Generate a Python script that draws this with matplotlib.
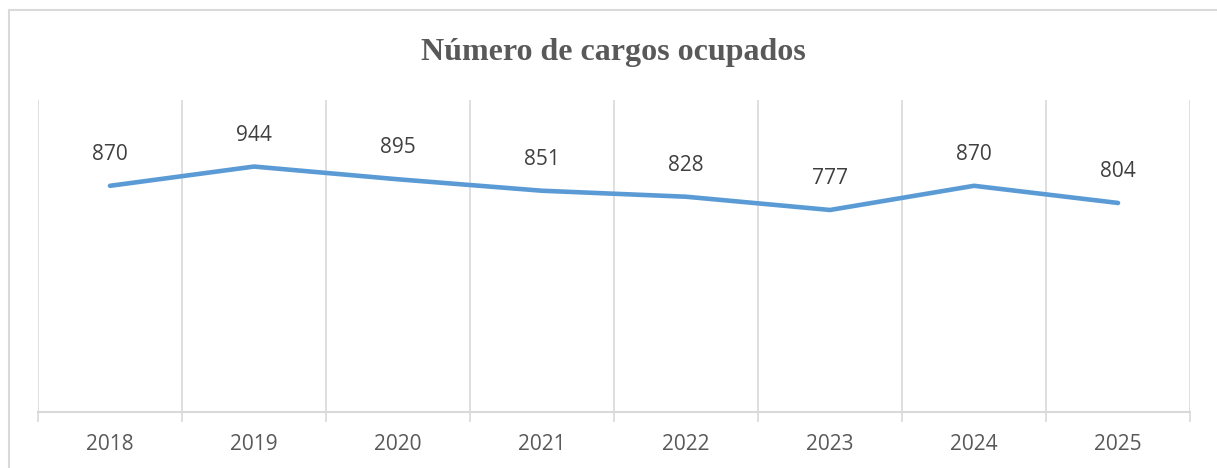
import matplotlib.pyplot as plt
from matplotlib.patches import Rectangle
import numpy as np

years = ['2018', '2019', '2020', '2021', '2022', '2023', '2024', '2025']
cargos = [870, 944, 895, 851, 828, 777, 870, 804]

W, H = 1217, 468
fig = plt.figure(figsize=(W / 100, H / 100), dpi=100)

# chart area border (Excel style), right/bottom edges fall outside the image
fig.patches.append(Rectangle((9 / W, -0.05), 1.1, 1.05 - 10 / H,
                             transform=fig.transFigure, fill=False,
                             edgecolor='#D9D9D9', linewidth=1.5))

ax = fig.add_axes([38 / W, 1 - 412 / H, 1152 / W, 312 / H])
x = np.arange(len(years))
ax.plot(x, cargos, color='#5B9BD5', linewidth=3.3, solid_capstyle='round',
        solid_joinstyle='round')

for xi, v in zip(x, cargos):
    ax.annotate(str(v), (xi, v), xytext=(0, 15), textcoords='offset points',
                ha='center', va='bottom', fontsize=15, color='#404040',
                family='Open Sans')

ax.set_xlim(-0.5, len(years) - 0.5)
ax.set_ylim(0, 1200)

# vertical gridlines between categories
bounds = np.arange(len(years) + 1) - 0.5
for b in bounds:
    ax.axvline(b, color='#D9D9D9', linewidth=1.2, zorder=0)

ax.set_xticks(x)
ax.set_xticklabels(years, fontsize=15, color='#595959', family='Open Sans')
ax.tick_params(axis='x', length=0, pad=16)
ax.set_xticks(bounds, minor=True)
ax.tick_params(axis='x', which='minor', length=7, width=1.2, color='#D9D9D9')
ax.set_yticks([])
for s in ['top', 'right', 'left']:
    ax.spines[s].set_visible(False)
ax.spines['bottom'].set_color('#D9D9D9')
ax.spines['bottom'].set_linewidth(1.5)

fig.text(613.5 / W, 1 - 60 / H, 'Número de cargos ocupados', ha='center', va='baseline',
         fontsize=23, fontweight='bold', color='#595959', family='Liberation Serif')

fig.savefig('out.png', dpi=100)
